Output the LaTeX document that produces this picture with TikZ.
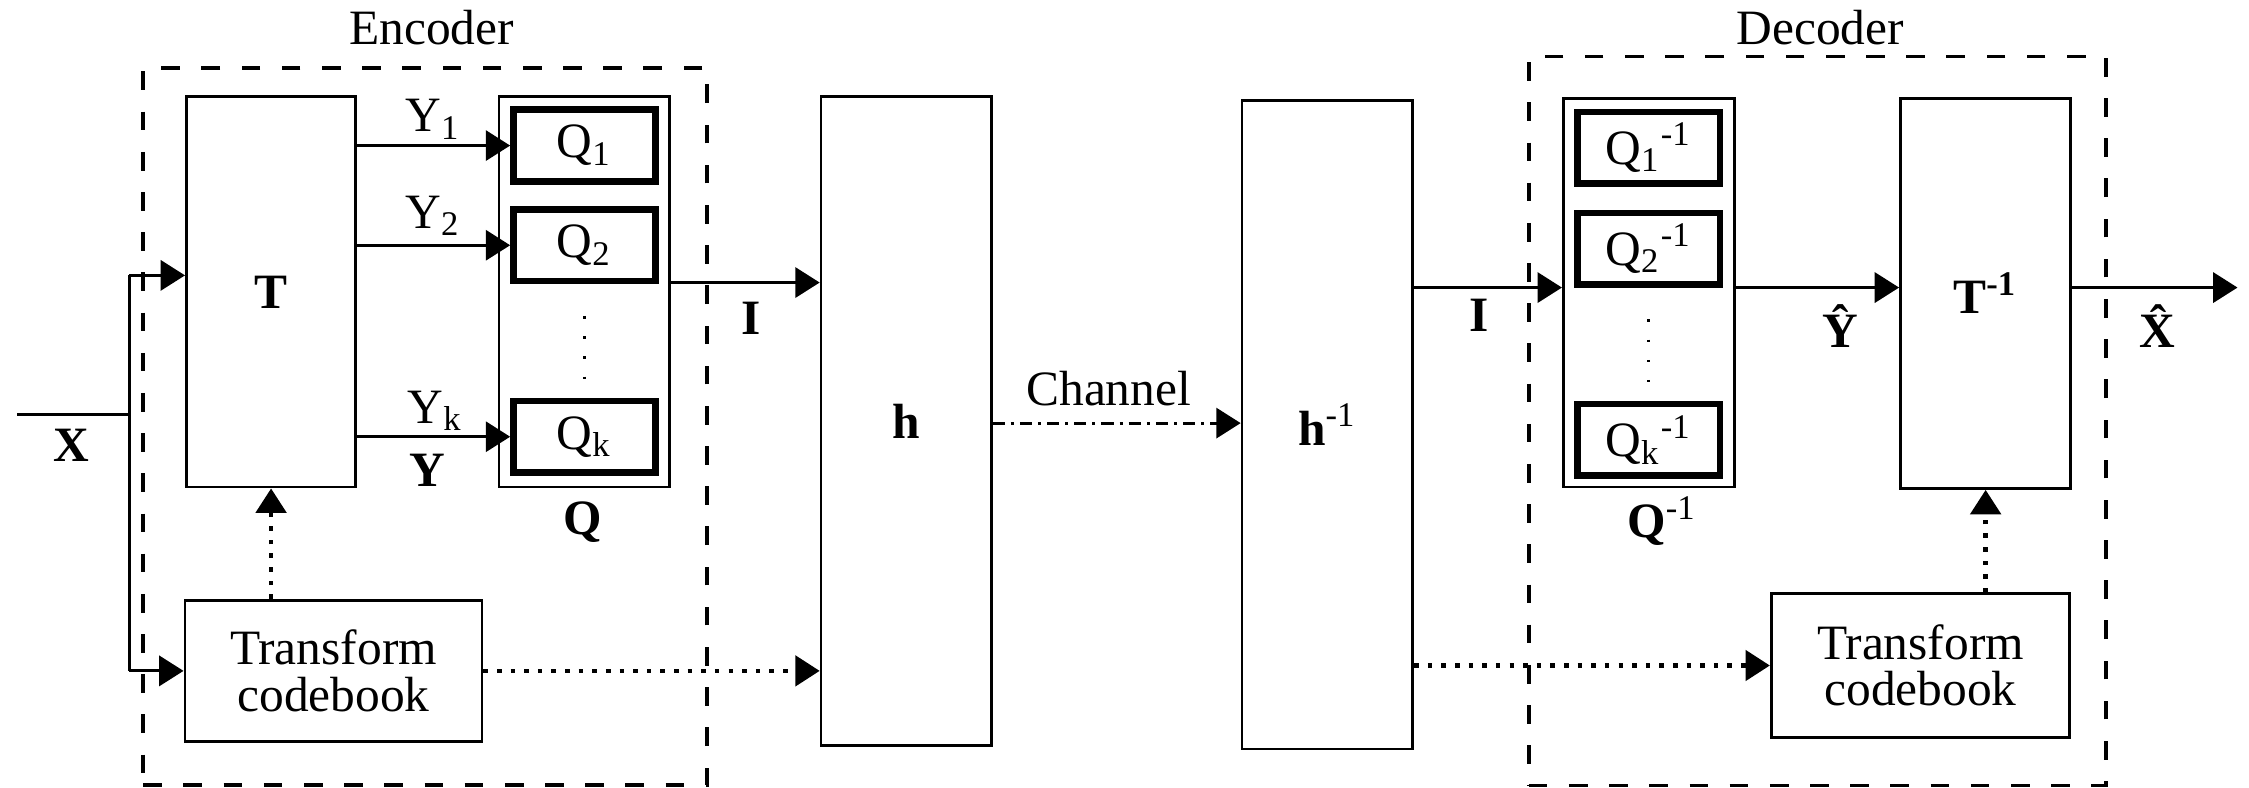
\documentclass[tikz,border=0pt]{standalone}
\usepackage{fontspec}
\setmainfont{Liberation Serif}
\usetikzlibrary{arrows.meta}
\begin{document}
\begin{tikzpicture}[x=0.01cm,y=-0.01cm,
  font=\fontsize{9.8}{9.2}\selectfont,
  blk/.style={draw,line width=0.55pt,inner sep=0pt},
  qblk/.style={draw,line width=1.3pt,inner sep=0pt,minimum width=0.99cm,minimum height=0.5cm},
  grp/.style={draw,line width=0.75pt,dash pattern=on 0.13cm off 0.15cm,inner sep=0pt},
  lbl/.style={inner sep=0pt,anchor=base},
  conn/.style={line width=0.6pt},
  arr/.style={conn,-{Triangle[length=0.17cm,width=0.21cm]}},
  dotarr/.style={arr,line width=0.9pt,dash pattern=on 0.9pt off 1.8pt},
  chan/.style={arr,dash pattern=on 2.4pt off 1.2pt on 0.6pt off 1.2pt},
  vdots/.style={line width=0.5pt,dash pattern=on 0.5pt off 3.5pt},
]
\useasboundingbox (0,0) rectangle (1568,549);

% groups
\node[grp,minimum width=3.93cm,minimum height=4.995cm] (enc) at (296.5,297.25) {};
\node[lbl] (enclbl) at (301,31) {Encoder};
\node[grp,minimum width=4.02cm,minimum height=5.08cm] (dec) at (1267,293.5) {};
\node[lbl] (declbl) at (1269,31) {Decoder};

% encoder blocks
\node[blk,minimum width=1.18cm,minimum height=2.72cm] (T) at (189,203.5) {\textbf{T}};
\node[blk,minimum width=1.19cm,minimum height=2.72cm] (Q) at (407.5,203.5) {};
\node[qblk] (Q1) at (407.5,101.5) {Q\textsubscript{1}};
\node[qblk] (Q2) at (407.5,171) {Q\textsubscript{2}};
\node[qblk] (Qk) at (407.5,304.5) {Q\textsubscript{k}};
\draw[vdots] ([yshift=-0.22cm]Q2.south) -- ([yshift=0.05cm]Qk.north);
\node[blk,minimum width=2.07cm,minimum height=0.985cm,align=center] (TC) at (232.5,467.75) {Transform\\codebook};

% channel blocks
\node[blk,minimum width=1.185cm,minimum height=4.52cm] (h) at (631.75,293.5) {\textbf{h}};
\node[blk,minimum width=1.19cm,minimum height=4.52cm] (hi) at (925.5,296) {\textbf{h}\textsuperscript{-1}};

% decoder blocks
\node[blk,minimum width=1.19cm,minimum height=2.71cm] (Qi) at (1149.5,204) {};
\node[qblk] (Q1i) at (1149.5,103) {Q\textsubscript{1}\textsuperscript{-1}};
\node[qblk] (Q2i) at (1149.5,173.4) {Q\textsubscript{2}\textsuperscript{-1}};
\node[qblk] (Qki) at (1149.5,306.7) {Q\textsubscript{k}\textsuperscript{-1}};
\draw[vdots] ([yshift=-0.22cm]Q2i.south) -- ([yshift=0.05cm]Qki.north);
\node[blk,minimum width=1.187cm,minimum height=2.72cm] (Ti) at (1384.4,204.5) {\textbf{T\textsuperscript{-1}}};
\node[blk,minimum width=2.08cm,minimum height=1cm,align=center] (TCd) at (1339,464) {Transform\\codebook};

% coordinates
\coordinate (xin) at (12,289);
\coordinate (xj) at (90,289);
\coordinate (tin) at (90,192);
\coordinate (eI) at (0,197);
\coordinate (ch) at (0,295);
\coordinate (dI) at (0,200.5);
\coordinate (xout) at (1560,200.5);

% connectors
\draw[conn] (xin) -- (xj);
\draw[conn] (tin) -- (tin |- TC.west);
\draw[arr] (tin) -- (T.west |- tin);
\draw[arr] (tin |- TC.west) -- (TC.west);
\draw[arr] (T.east |- Q1.west) -- (Q1.west);
\draw[arr] (T.east |- Q2.west) -- (Q2.west);
\draw[arr] (T.east |- Qk.west) -- (Qk.west);
\draw[arr] (Q.east |- eI) -- (h.west |- eI);
\draw[dotarr] (T.south |- TC.north) -- (T.south);
\draw[dotarr] (TC.east) -- (h.west |- TC.east);
\draw[chan] (h.east |- ch) -- (hi.west |- ch);
\draw[arr] (hi.east |- dI) -- (Qi.west |- dI);
\draw[arr] (Qi.east |- dI) -- (Ti.west |- dI);
\draw[arr] (Ti.east |- dI) -- (xout);
\draw[dotarr] (hi.east |- TCd.west) -- (TCd.west);
\draw[dotarr] (Ti.south |- TCd.north) -- (Ti.south);

% labels
\node[lbl,anchor=base west] (y1) at (282,92) {Y\textsubscript{1}};
\node[lbl,anchor=base west] (y2) at (282,159) {Y\textsubscript{2}};
\node[lbl,anchor=base west] (yk) at (283.5,295) {Y\textsubscript{k}};
\node[lbl] (ylbl) at (298,339.5) {\textbf{Y}};
\node[lbl] (xlbl) at (50,322) {\textbf{X}};
\node[lbl] (qlbl) at (406.5,373) {\textbf{Q}};
\node[lbl] (i1) at (524,233) {\textbf{I}};
\node[lbl] (i2) at (1031,231) {\textbf{I}};
\node[lbl] (chl) at (773,283) {Channel};
\node[lbl,anchor=base west] (qil) at (1134,375) {\textbf{Q}\textsuperscript{-1}};
\node[lbl] (yh) at (1283,242) {\textbf{\^{Y}}};
\node[lbl] (xh) at (1507,242) {\textbf{\^{X}}};
\end{tikzpicture}
\end{document}
